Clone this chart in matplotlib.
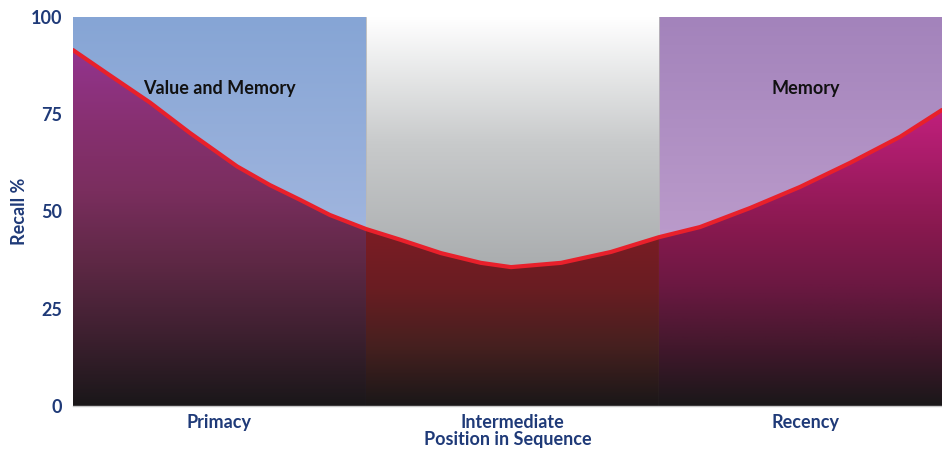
import numpy as np
import matplotlib.pyplot as plt
from matplotlib.colors import LinearSegmentedColormap
from matplotlib.patches import Polygon

# curve (x in band units: 0-1 primacy, 1-2 intermediate, 2-3 recency)
pos = [0.0, 0.126, 0.263, 0.399, 0.56, 0.672, 0.775, 0.877, 1.0,
       1.119, 1.256, 1.392, 1.495, 1.666, 1.836, 2.0,
       2.140, 2.311, 2.481, 2.652, 2.823, 2.966]
recall = [91.5, 85.0, 78.0, 70.2, 61.6, 56.8, 53.0, 49.1, 45.5,
          42.7, 39.3, 36.8, 35.7, 36.8, 39.6, 43.4,
          46.0, 50.9, 56.3, 62.5, 69.2, 76.1]

bands = ["Primacy", "Intermediate", "Recency"]
band_edges = [0.0, 1.0, 2.0, 2.966]
yticks = [0, 25, 50, 75, 100]

navy = "#1f3a78"

fig = plt.figure(figsize=(9.42, 4.5), dpi=100)
ax = fig.add_axes([73 / 942, 44 / 450, 1 - 73 / 942, 389 / 450])
ax.set_xlim(0, band_edges[-1])
ax.set_ylim(0, 100)

bg_maps = [
    ["#a0b5de", "#86a5d5"],
    ["#a9acae", "#c8cacb", "#ffffff"],
    ["#bb9bcb", "#a383bb"],
]
fill_maps = [
    ["#1a1719", "#3e2030", "#5e2845", "#7a2e5e", "#883072", "#93348f"],
    ["#1a1718", "#45201f", "#691d22", "#7c1c24"],
    ["#1a1719", "#44182d", "#6c1842", "#8a1950", "#a81c68", "#c4207f"],
]
fill_top = [92, 45, 78]
bg_range = [(45, 100), (35, 100), (43, 100)]

grad = np.linspace(0, 1, 256).reshape(-1, 1)

for i in range(3):
    x0, x1 = band_edges[i], band_edges[i + 1]
    xs = [p for p in pos if x0 <= p <= x1]
    ys = [r for p, r in zip(pos, recall) if x0 <= p <= x1]

    # background above the curve
    cm = LinearSegmentedColormap.from_list("bg%d" % i, bg_maps[i])
    lo, hi = bg_range[i]
    ax.imshow(grad, cmap=cm, origin="lower", aspect="auto",
              extent=[x0, x1, lo, hi], zorder=1)
    ax.imshow(grad[:1], cmap=cm, origin="lower", aspect="auto",
              extent=[x0, x1, 0, lo], zorder=0.9, vmin=0, vmax=1)

    # fill under the curve
    cm2 = LinearSegmentedColormap.from_list("fill%d" % i, fill_maps[i])
    poly_pts = list(zip(xs, ys)) + [(x1, 0), (x0, 0)]
    poly = Polygon(poly_pts, closed=True, facecolor="none", edgecolor="none")
    ax.add_patch(poly)
    imf = ax.imshow(grad, cmap=cm2, origin="lower", aspect="auto",
                    extent=[x0, x1, 0, fill_top[i]], zorder=2)
    imf.set_clip_path(poly)
    if fill_top[i] < 100:
        # solid top colour above the gradient range, still clipped to the curve
        top = ax.imshow(grad[-1:], cmap=cm2, origin="lower", aspect="auto",
                        extent=[x0, x1, fill_top[i], 100], zorder=2, vmin=0, vmax=1)
        top.set_clip_path(poly)

# thin grey band separators
for e in band_edges[1:-1]:
    ax.axvline(e, color="#b8b8b8", lw=0.6, zorder=1.5)

ax.plot(pos, recall, color="#e8202b", lw=3, zorder=3,
        solid_capstyle="round", solid_joinstyle="round")

ax.text(0.5, 81.5, "Value and Memory", ha="center", va="center",
        fontsize=13, fontweight="bold", family="Lato", color="#111111", zorder=4)
ax.text(2.5, 81.5, "Memory", ha="center", va="center",
        fontsize=13, fontweight="bold", family="Lato", color="#111111", zorder=4)

for s in ["top", "right", "left"]:
    ax.spines[s].set_visible(False)
ax.spines["bottom"].set_color("#c8c8c8")
ax.spines["bottom"].set_linewidth(1)
ax.spines["bottom"].set_zorder(5)

ax.set_yticks(yticks)
ax.set_yticklabels([str(v) for v in yticks], fontsize=13, fontweight="bold",
                   family="Lato", color=navy)
centers = [0.5, 1.5, 2.5]
ax.set_xticks(centers)
ax.set_xticklabels(bands, fontsize=13, fontweight="bold", family="Lato", color=navy)
ax.tick_params(axis="x", length=0, pad=6)
ax.tick_params(axis="y", length=0, pad=8)
ax.set_xlabel("Position in Sequence", fontsize=13, fontweight="bold",
              family="Lato", color=navy, labelpad=0)
ax.set_ylabel("Recall %", fontsize=13, fontweight="bold", family="Lato",
              color=navy, labelpad=1.5)

fig.savefig("out.png", dpi=100)
